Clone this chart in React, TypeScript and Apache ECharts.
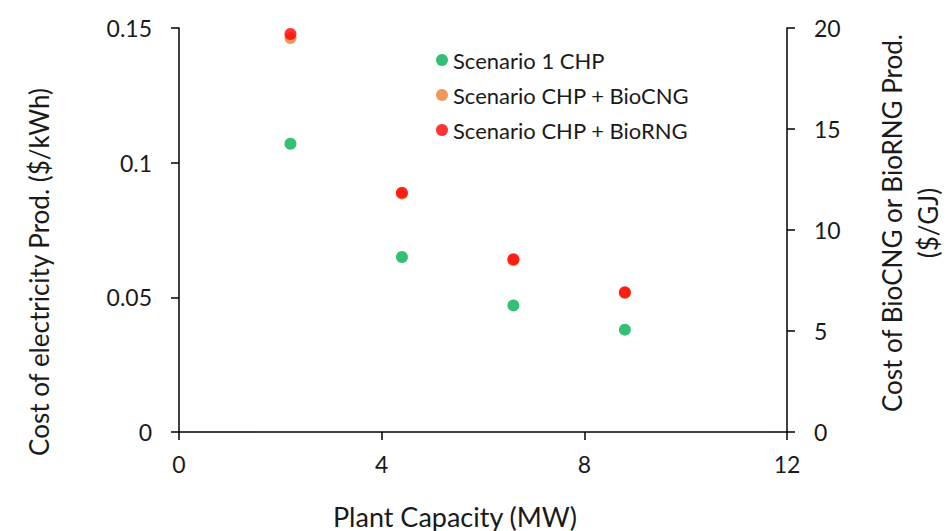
import React, { useEffect, useRef } from "react";
import * as echarts from "echarts";

const capacity = [2.2, 4.4, 6.6, 8.8];
const chpCost = [0.107, 0.065, 0.047, 0.038];
const bioCngCost = [19.5, 11.8, 8.5, 6.88];
const bioRngCost = [19.7, 11.85, 8.55, 6.92];
const seriesNames = ["Scenario 1 CHP", "Scenario CHP + BioCNG", "Scenario CHP + BioRNG"];
const colors = ["#00B050", "#ED7D31", "#FF0000"];
const xTitle = "Plant Capacity (MW)";
const leftTitle = "Cost of electricity Prod. ($/kWh)";
const rightTitle = "Cost of BioCNG or BioRNG Prod.\n($/GJ)";

const FONT = "Lato";
const TXT = "#1a1a1a";

export default function App() {
  const ref = useRef<HTMLDivElement>(null);
  useEffect(() => {
    if (!ref.current) return;
    const chart = echarts.init(ref.current, null, { renderer: "svg" });
    const pair = (ys: number[]) => capacity.map((x, i) => [x, ys[i]]);
    const axisLine = { show: true, lineStyle: { color: "#000", width: 1.5 } };
    const axisTick = { show: true, length: 8, lineStyle: { color: "#000", width: 1.5 } };
    chart.setOption({
      animation: false,
      backgroundColor: "#fff",
      textStyle: { fontFamily: FONT },
      grid: { left: 179, right: 160, top: 28, bottom: 99, containLabel: false },
      legend: {
        orient: "vertical",
        left: 431,
        top: 44,
        itemWidth: 12,
        itemHeight: 12,
        itemGap: 13,
        icon: "circle",
        textStyle: { fontFamily: FONT, fontSize: 22, lineHeight: 22, color: TXT },
        data: seriesNames,
      },
      xAxis: {
        type: "value",
        min: 0,
        max: 12,
        interval: 4,
        splitLine: { show: false },
        axisLine: { ...axisLine, onZero: false },
        axisTick,
        axisLabel: { fontFamily: FONT, fontSize: 23, color: TXT, margin: 20 },
      },
      yAxis: [
        {
          type: "value",
          min: 0,
          max: 0.15,
          interval: 0.05,
          position: "left",
          splitLine: { show: false },
          axisLine,
          axisTick,
          axisLabel: {
            fontFamily: FONT,
            fontSize: 23,
            color: TXT,
            margin: 27,
            formatter: (v: number) => String(Math.round(v * 100) / 100),
          },
        },
        {
          type: "value",
          min: 0,
          max: 20,
          interval: 5,
          position: "right",
          splitLine: { show: false },
          axisLine,
          axisTick,
          axisLabel: { fontFamily: FONT, fontSize: 23, color: TXT, margin: 27 },
        },
      ],
      graphic: [
        {
          type: "text",
          x: 455,
          y: 516,
          style: { text: xTitle, fontFamily: FONT, fontSize: 27, fill: TXT, textAlign: "center", textVerticalAlign: "middle" },
        },
        {
          type: "text",
          x: 39,
          y: 272,
          rotation: Math.PI / 2,
          style: { text: leftTitle, fontFamily: FONT, fontSize: 26, fill: TXT, textAlign: "center", textVerticalAlign: "middle" },
        },
        {
          type: "text",
          x: 910,
          y: 223,
          rotation: Math.PI / 2,
          style: { text: rightTitle, fontFamily: FONT, fontSize: 26, lineHeight: 36, fill: TXT, textAlign: "center", textVerticalAlign: "middle" },
        },
      ],
      series: [
        { name: seriesNames[0], type: "scatter", yAxisIndex: 0, symbolSize: 12, itemStyle: { color: colors[0] }, data: pair(chpCost) },
        { name: seriesNames[1], type: "scatter", yAxisIndex: 1, symbolSize: 12, itemStyle: { color: colors[1] }, data: pair(bioCngCost) },
        { name: seriesNames[2], type: "scatter", yAxisIndex: 1, symbolSize: 12, itemStyle: { color: colors[2] }, data: pair(bioRngCost) },
      ],
    });
    return () => chart.dispose();
  }, []);
  return <div ref={ref} style={{ width: 947, height: 531, position: "absolute", left: 0, top: 0 }} />;
}
